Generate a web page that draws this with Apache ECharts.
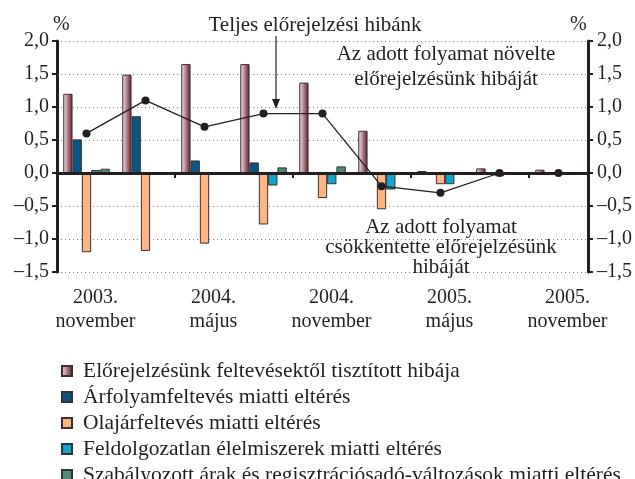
<!DOCTYPE html>
<html>
<head>
    <meta charset="utf-8" />
    <title>Előrejelzési hiba felbontása</title>
</head>
<body style="margin:0;background:#fff;">
<script src="https://cdn.jsdelivr.net/npm/echarts@6/dist/echarts.min.js"></script>
<div id="main" style="width: 635px;height:479px;"></div>
<script type="text/javascript">
    // negyedéves időpontok
    var categories = ['2003. november', '2004. február', '2004. május', '2004. augusztus', '2004. november',
        '2005. február', '2005. május', '2005. augusztus', '2005. november'];
    // csak minden második negyedév kap feliratot
    var xLabels = ['2003.\nnovember', '', '2004.\nmájus', '', '2004.\nnovember', '', '2005.\nmájus', '', '2005.\nnovember'];

    var tisztitott = [1.20, 1.49, 1.65, 1.65, 1.37, 0.64, 0.03, 0.07, 0.05];
    var arfolyam = [0.51, 0.86, 0.19, 0.16, 0, 0, 0, 0, 0];
    var olajar = [-1.20, -1.18, -1.07, -0.78, -0.38, -0.55, -0.17, -0.05, -0.03];
    var elelmiszer = [0.045, -0.02, -0.02, -0.19, -0.17, -0.25, -0.17, -0.01, 0];
    var szabalyozott = [0.065, 0, 0, 0.085, 0.10, 0, 0.01, 0.01, 0];
    var teljes = [0.6, 1.1, 0.7, 0.9, 0.9, -0.2, -0.3, 0.0, 0.0];

    var serif = '"Liberation Serif", "Times New Roman", serif';
    var txt = '#231f20';

    function fmt(v) {
        return v.toFixed(1).replace('.', ',').replace('-', '\u2013');
    }

    var myChart = echarts.init(document.getElementById('main'));

    var barBase = { type: 'bar', barWidth: 9.3, barGap: '0%', xAxisIndex: 0, yAxisIndex: 0 };
    function bar(name, data, color) {
        return Object.assign({}, barBase, {
            name: name,
            data: data,
            itemStyle: { color: color, borderColor: '#3a3030', borderWidth: 1 }
        });
    }

    var yAxisBase = {
        type: 'value',
        min: -1.5,
        max: 2,
        interval: 0.5,
        axisLine: { show: true, onZero: false, lineStyle: { color: '#231f20', width: 3 } },
        axisTick: { show: true, length: 5, lineStyle: { color: '#231f20', width: 2 } },
        axisLabel: { formatter: fmt, fontFamily: serif, fontSize: 20, color: txt, margin: 8 }
    };

    var option = {
        animation: false,
        grid: { left: 57, right: 47, top: 41, bottom: 207 },
        legend: {
            orient: 'vertical',
            left: 61,
            top: 360,
            height: 200,
            padding: 0,
            itemWidth: 10,
            itemHeight: 10,
            itemGap: 4,
            icon: 'rect',
            textStyle: { fontFamily: serif, fontSize: 21.5, lineHeight: 20, color: txt, padding: [0, 0, 0, 6] },
            data: ['Előrejelzésünk feltevésektől tisztított hibája', 'Árfolyamfeltevés miatti eltérés',
                'Olajárfeltevés miatti eltérés', 'Feldolgozatlan élelmiszerek miatti eltérés',
                'Szabályozott árak és regisztrációsadó-változások miatti eltérés']
        },
        xAxis: [
            {
                type: 'category',
                data: categories,
                position: 'bottom',
                axisLine: { show: false, onZero: false },
                axisTick: { show: false },
                axisLabel: {
                    interval: 0,
                    formatter: function (v, i) { return xLabels[i]; },
                    fontFamily: serif, fontSize: 20, lineHeight: 24, color: txt,
                    margin: 14, padding: [0, 0, 0, 18]
                }
            },
            {
                type: 'category',
                data: categories,
                position: 'bottom',
                z: 10,
                axisLine: { show: true, onZero: true, onZeroAxisIndex: 0, lineStyle: { color: '#231f20', width: 3 } },
                axisTick: { show: true, length: 5, lineStyle: { color: '#231f20', width: 2 } },
                axisLabel: { show: false }
            }
        ],
        yAxis: [
            Object.assign({}, yAxisBase, {
                position: 'left',
                splitLine: { show: true, lineStyle: { color: '#7f7f7f', width: 1, type: [1, 3] } }
            }),
            Object.assign({}, yAxisBase, {
                position: 'right',
                splitLine: { show: false },
                axisLabel: { formatter: fmt, fontFamily: serif, fontSize: 20, color: txt, margin: 9 }
            })
        ],
        graphic: [
            { type: 'text', left: 53, top: 15, style: { text: '%', font: '20px ' + serif, fill: txt } },
            { type: 'text', left: 570, top: 15, style: { text: '%', font: '20px ' + serif, fill: txt } },
            {
                type: 'text', x: 315, y: 25,
                style: { text: 'Teljes előrejelzési hibánk', font: '21px ' + serif, fill: txt,
                    align: 'center', verticalAlign: 'middle', textAlign: 'center', textVerticalAlign: 'middle' }
            },
            {
                type: 'text', x: 446, y: 67, z: 20,
                style: { text: 'Az adott folyamat növelte\nelőrejelzésünk hibáját', font: '21px ' + serif, fill: txt,
                    lineHeight: 25, align: 'center', verticalAlign: 'middle', textAlign: 'center', textVerticalAlign: 'middle' }
            },
            {
                type: 'text', x: 441, y: 247, z: 20,
                style: { text: 'Az adott folyamat\ncsökkentette előrejelzésünk\nhibáját', font: '21px ' + serif, fill: txt,
                    lineHeight: 20, align: 'center', verticalAlign: 'middle', textAlign: 'center', textVerticalAlign: 'middle' }
            },
            { type: 'line', shape: { x1: 276, y1: 36, x2: 276, y2: 101 }, style: { stroke: '#231f20', lineWidth: 1.2 } },
            { type: 'polygon', shape: { points: [[272, 99], [280, 99], [276, 109]] }, style: { fill: '#231f20' } }
        ],
        series: [
            bar('Előrejelzésünk feltevésektől tisztított hibája', tisztitott, new echarts.graphic.LinearGradient(0, 0, 1, 0, [
                { offset: 0, color: '#f2eaed' },
                { offset: 0.3, color: '#cfa9b1' },
                { offset: 1, color: '#5c1827' }
            ])),
            bar('Árfolyamfeltevés miatti eltérés', arfolyam, '#0b5585'),
            bar('Olajárfeltevés miatti eltérés', olajar, '#fdb683'),
            bar('Feldolgozatlan élelmiszerek miatti eltérés', elelmiszer, '#10a6cc'),
            bar('Szabályozott árak és regisztrációsadó-változások miatti eltérés', szabalyozott, '#4a8c74'),
            {
                name: 'Teljes előrejelzési hibánk',
                type: 'line',
                data: teljes,
                z: 12,
                symbol: 'circle',
                symbolSize: 8,
                itemStyle: { color: '#231f20' },
                lineStyle: { color: '#231f20', width: 1.3 }
            }
        ]
    };

    myChart.setOption(option);
</script>
</body>
</html>
